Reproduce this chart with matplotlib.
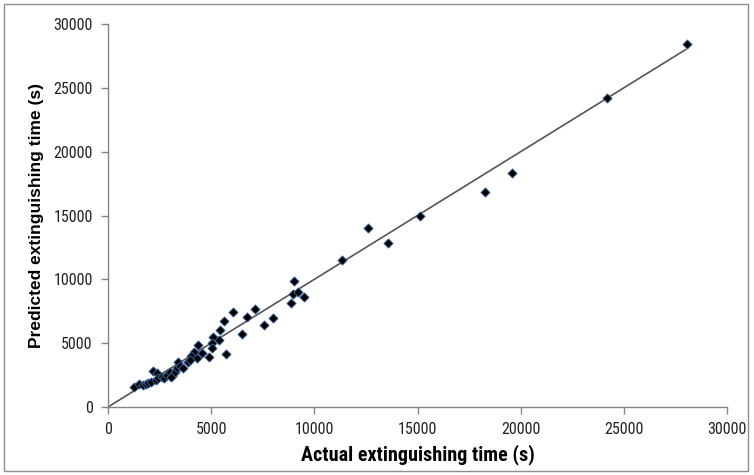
import numpy as np
import matplotlib
matplotlib.use('Agg')
import matplotlib.pyplot as plt
from matplotlib import font_manager
from matplotlib.patches import Rectangle

# actual vs predicted extinguishing time (s)
actual = [28040, 24200, 19600, 18250, 15100, 12600, 13550, 11350,
          9030, 8980, 9220, 9520, 8870, 7130, 6040, 6720, 8010, 5620,
          7550, 5440, 6480, 5100, 5380, 5030, 4380, 5060, 4570, 5710,
          4900, 4150, 4020, 4300, 3890,
          1270, 1500, 1710, 1840, 1950, 2080, 2200, 2360, 2310, 2440,
          2600, 2710, 2850, 3010, 3090, 3250, 3330, 3410, 3490, 3650,
          3970, 3050]
predicted = [28400, 24200, 18300, 16850, 15000, 14000, 12850, 11500,
             9890, 8850, 9030, 8640, 8170, 7650, 7440, 7070, 6950, 6760,
             6420, 6010, 5690, 5460, 5220, 4990, 4830, 4600, 4250, 4130,
             3940, 4330, 3990, 3810, 3550,
             1540, 1780, 1720, 1800, 1860, 1980, 2820, 2640, 2110, 2250,
             2370, 2270, 2510, 2720, 2450, 2760, 3030, 3550, 3230, 3030,
             3680, 2380]

# ideal agreement line
line_x = [0, 28000]
line_y = [0, 28000]

xticks = [0, 5000, 10000, 15000, 20000, 25000, 30000]
yticks = [0, 5000, 10000, 15000, 20000, 25000, 30000]

# pick a narrow face for the horizontal text if one is installed
installed = set(f.name for f in font_manager.fontManager.ttflist)
narrow = 'Liberation Sans'
for cand in ['Liberation Sans Narrow', 'DejaVu Sans Condensed', 'Roboto Condensed',
             'Open Sans Condensed', 'Noto Sans Condensed']:
    if cand in installed:
        narrow = cand
        break

plt.rcParams['font.family'] = [narrow, 'Liberation Sans', 'DejaVu Sans']

fig = plt.figure(figsize=(7.54, 4.75), dpi=100)
ax = fig.add_axes([108/754, 68/475, 619/754, 383/475])

ax.plot(line_x, line_y, color='#555555', lw=1.2, zorder=2)
ax.scatter(actual, predicted, marker='D', s=22, facecolor='black',
           edgecolor='#3a6aa8', linewidth=0.6, zorder=3)

ax.set_xlim(0, 30000)
ax.set_ylim(0, 30000)
ax.set_xticks(xticks)
ax.set_yticks(yticks)
ax.set_xticklabels([str(t) for t in xticks])
ax.set_yticklabels([str(t) for t in yticks])

for s in ['top', 'right']:
    ax.spines[s].set_visible(False)
for s in ['left', 'bottom']:
    ax.spines[s].set_color('#868686')
    ax.spines[s].set_linewidth(1.0)
ax.tick_params(direction='out', length=5, width=1.0, color='#868686',
               labelsize=11.5, labelcolor='#222222', pad=6)

ax.set_xlabel('Actual extinguishing time (s)', fontsize=14.5, fontweight='bold',
              labelpad=5)
ax.set_ylabel('Predicted extinguishing time (s)', fontsize=12.5, fontweight='bold',
              family=['Liberation Sans', 'DejaVu Sans'], labelpad=7)

# chart area border
fig.patches.append(Rectangle((4/754, 4/475), 744/754, 467/475,
                             transform=fig.transFigure, fill=False,
                             edgecolor='#8c8c8c', lw=1.0))

fig.savefig('out.png', dpi=100)
